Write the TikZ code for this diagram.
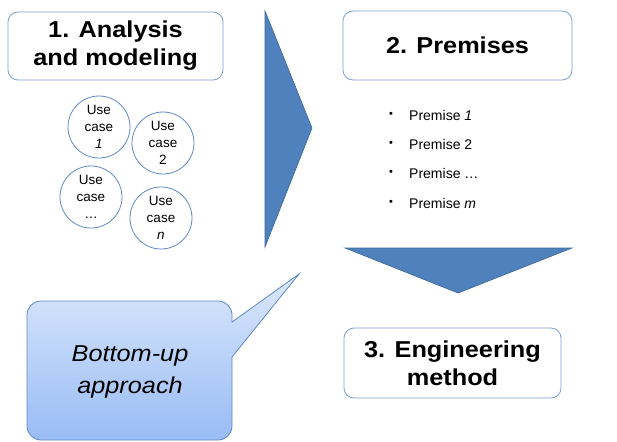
\documentclass[tikz,border=0pt]{standalone}
\usepackage{fontspec}
\setmainfont{Liberation Sans}
\newfontfamily\hfont[FakeStretch=1.1]{Liberation Sans}
\definecolor{arrowblue}{RGB}{79,129,189}
\definecolor{arrowedge}{RGB}{60,100,150}
\definecolor{boxblue}{RGB}{125,160,210}
\definecolor{ucblue}{RGB}{95,135,195}
\definecolor{calltop}{RGB}{220,232,252}
\definecolor{callbot}{RGB}{152,188,245}
\definecolor{callborder}{RGB}{95,135,195}
\begin{document}
\begin{tikzpicture}[x=1pt,y=-1pt,
  headbox/.style={draw=boxblue, line width=0.8pt, rounded corners=10pt, fill=white, inner sep=0pt,
    align=center, font=\hfont\bfseries\fontsize{23}{28}\selectfont},
  uc/.style={circle, draw=ucblue, line width=0.8pt, minimum size=62pt, inner sep=0pt,
    align=center, font=\fontsize{13.5}{17}\selectfont},
  premtext/.style={anchor=west, inner sep=0pt, font=\fontsize{14}{17}\selectfont},
  bullet/.style={inner sep=0pt, font=\fontsize{11}{12}\selectfont},
  bigarrow/.style={fill=arrowblue, draw=arrowedge, line width=0.6pt, line join=miter}]
\useasboundingbox (0,0) rectangle (617,441);

% right-pointing arrow
\path[bigarrow] (265,11) -- (312,128) -- (265,247) -- cycle;
% down-pointing arrow
\path[bigarrow] (345,248) -- (572,248) -- (458,293) -- cycle;

% boxes
\node[headbox, minimum width=215pt, minimum height=68pt] (b1) at (115.5,46) {1. Analysis\\and modeling};
\node[headbox, minimum width=229pt, minimum height=69pt] (b2) at (457.5,45.5) {2. Premises};
\node[headbox, minimum width=217pt, minimum height=70pt] (b3) at (452.5,363) {3. Engineering\\method};

% use cases
\node[uc] (u1) at (99,127) {Use\\case\\\textit{1}};
\node[uc] (u2) at (163,143) {Use\\case\\2};
\node[uc] (u3) at (91,197) {Use\\case\\\dots};
\node[uc] (u4) at (161,218) {Use\\case\\\textit{n}};

% premises
\node[bullet] (p1b) at (391,115) {•};
\node[premtext] (p1) at (409,115) {Premise \textit{1}};
\node[bullet] (p2b) at (391,144) {•};
\node[premtext] (p2) at (409,144) {Premise 2};
\node[bullet] (p3b) at (391,173) {•};
\node[premtext] (p3) at (409,173) {Premise \dots};
\node[bullet] (p4b) at (391,203) {•};
\node[premtext] (p4) at (409,203) {Premise \textit{m}};

% callout
\path[draw=callborder, line width=0.8pt, top color=calltop, bottom color=callbot]
  (27,330) [rounded corners=14pt] -- (27,301) -- (232,301) [sharp corners] -- (232,322) -- (299,274) -- (232,357) [rounded corners=14pt] -- (232,440) -- (27,440) -- (27,330);
\node[align=center, inner sep=0pt, font=\hfont\itshape\fontsize{23}{32}\selectfont] (bu) at (130,372) {Bottom-up\\approach};
\end{tikzpicture}
\end{document}
